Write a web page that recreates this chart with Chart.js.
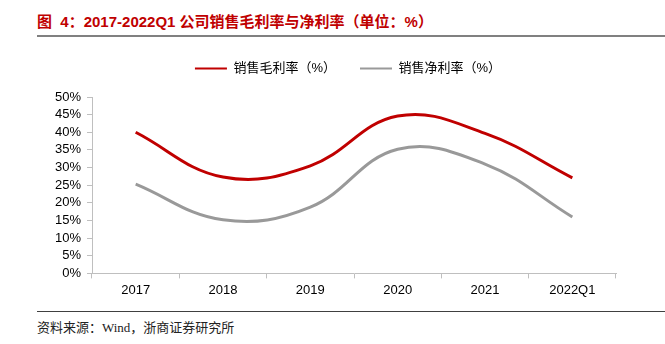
<!DOCTYPE html>
<html>
<head>
<meta charset="utf-8">
<script src="https://cdn.jsdelivr.net/npm/chart.js@4"></script>
<style>
  body { margin: 0; width: 665px; height: 344px; background: #fff; position: relative; overflow: hidden; }
  #title { position: absolute; left: 37px; top: 10px; font: bold 15px "Liberation Sans", "Noto Sans CJK SC", sans-serif; color: #c00000; white-space: pre; }
  #titleLine { position: absolute; left: 37px; top: 35px; width: 628px; height: 2px; background: #808080; }
  #chartBox { position: absolute; left: 0; top: 38px; width: 665px; height: 264px; }
  #footLine { position: absolute; left: 37px; top: 311px; width: 628px; height: 1px; background: #404040; }
  #source { position: absolute; left: 37px; top: 317px; font: 13px "Liberation Serif", "Noto Sans CJK SC", serif; color: #222; white-space: nowrap; }
</style>
</head>
<body>
<div id="title">图  4：2017-2022Q1 公司销售毛利率与净利率（单位：%）</div>
<div id="titleLine"></div>
<div id="chartBox"><canvas id="marginChart"></canvas></div>
<div id="footLine"></div>
<div id="source">资料来源：Wind，浙商证券研究所</div>
<script>
const categories = ["2017", "2018", "2019", "2020", "2021", "2022Q1"];
const grossMargin = [40.0, 27.3, 30.5, 44.6, 39.7, 27.1];
const netMargin = [25.3, 15.2, 18.8, 35.2, 31.0, 16.0];
const yTicks = [0, 5, 10, 15, 20, 25, 30, 35, 40, 45, 50];

const axisColor = "#bfbfbf";
const labelFont = { family: "Liberation Sans", size: 13 };

// more room under the legend, and move it a bit right
const legendTweak = {
  id: "legendTweak",
  beforeInit(chart) {
    const fit = chart.legend.fit;
    chart.legend.fit = function () {
      fit.call(this);
      this.height += 12;
    };
  },
  afterLayout(chart) {
    chart.legend.left += 80;
    chart.legend.adjustHitBoxes();
  }
};

new Chart(document.getElementById("marginChart"), {
  type: "line",
  data: {
    labels: categories,
    datasets: [
      {
        label: "销售毛利率（%）",
        data: grossMargin,
        borderColor: "#c00000",
        backgroundColor: "#c00000",
        borderWidth: 3,
        tension: 0.4,
        pointRadius: 0
      },
      {
        label: "销售净利率（%）",
        data: netMargin,
        borderColor: "#999999",
        backgroundColor: "#999999",
        borderWidth: 3,
        tension: 0.4,
        pointRadius: 0
      }
    ]
  },
  plugins: [legendTweak],
  options: {
    responsive: true,
    maintainAspectRatio: false,
    animation: false,
    layout: { padding: { left: 0, right: 49, top: 0, bottom: 0 } },
    plugins: {
      legend: {
        position: "top",
        labels: {
          boxWidth: 32,
          boxHeight: 2,
          padding: 24,
          color: "#000",
          font: { family: "Liberation Sans, Noto Sans CJK SC", size: 13 },
          generateLabels: (chart) => {
            return Chart.defaults.plugins.legend.labels.generateLabels(chart).map((item) => ({
              ...item,
              lineWidth: 0
            }));
          }
        }
      },
      tooltip: { enabled: false }
    },
    scales: {
      x: {
        offset: true,
        grid: { display: true, drawOnChartArea: false, color: axisColor, tickLength: 5, offset: true },
        border: { color: axisColor },
        ticks: { color: "#000", font: labelFont, padding: 4, maxRotation: 0 }
      },
      y: {
        min: 0,
        max: 50,
        afterFit: (scale) => { scale.width = 92; },
        afterBuildTicks: (scale) => { scale.ticks = yTicks.map((v) => ({ value: v })); },
        grid: { display: true, drawOnChartArea: false, color: axisColor, tickLength: 5 },
        border: { color: axisColor },
        ticks: {
          autoSkip: false,
          color: "#000",
          font: labelFont,
          padding: 6,
          callback: (value) => value + "%"
        }
      }
    }
  }
});
</script>
</body>
</html>
